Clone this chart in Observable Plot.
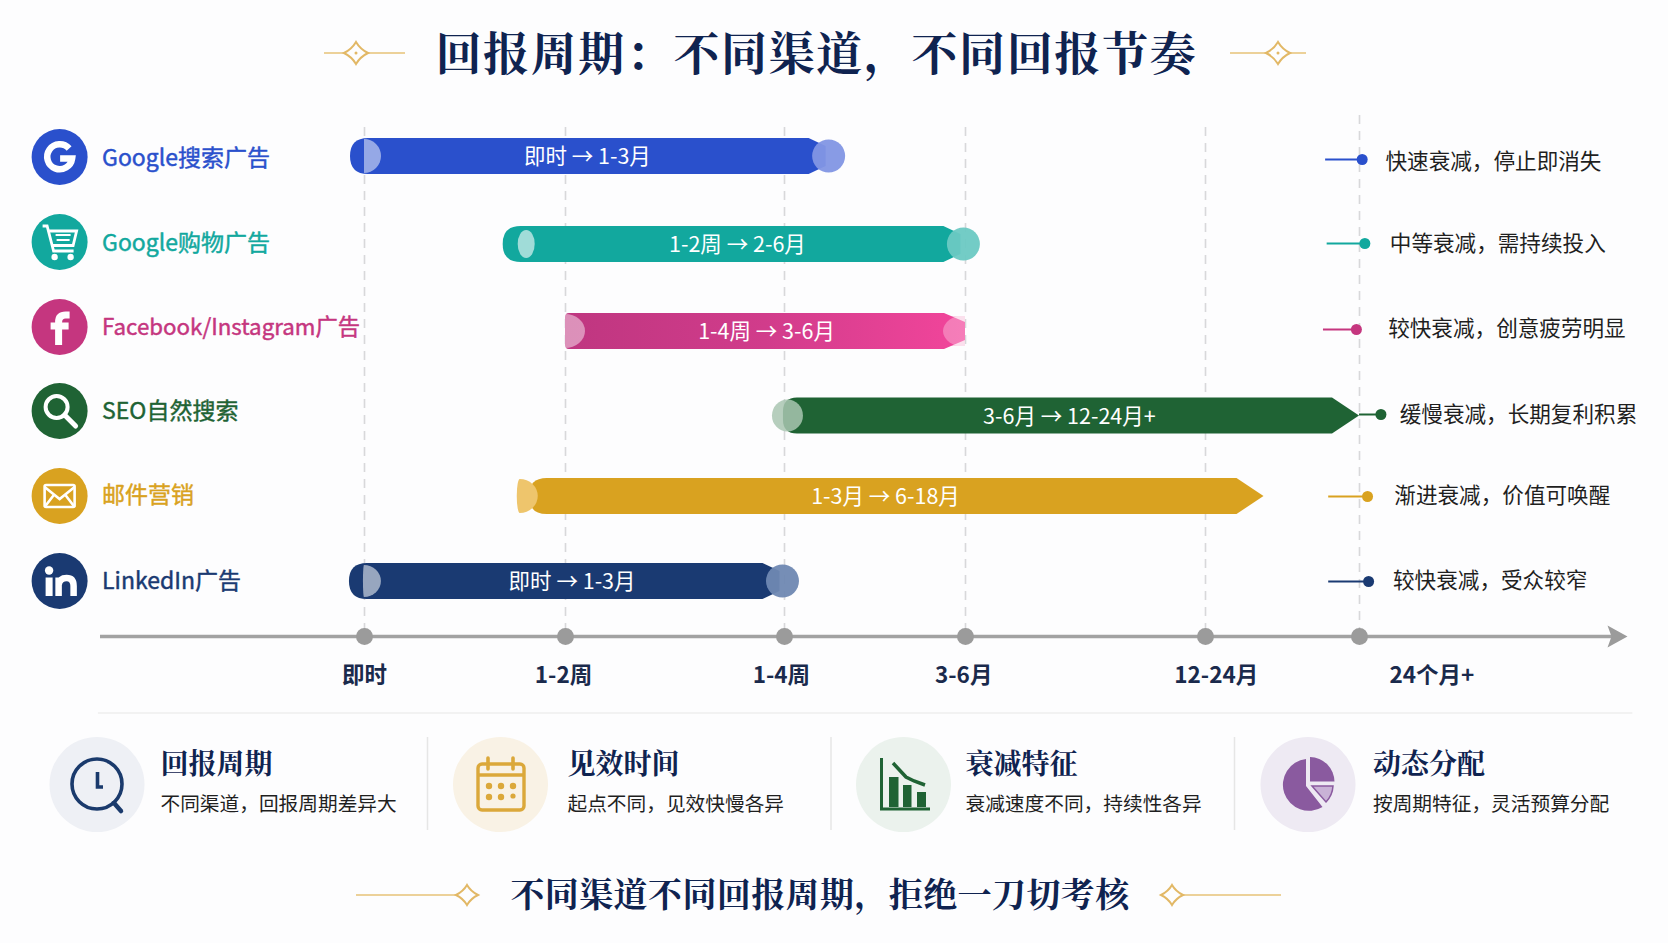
<!DOCTYPE html>
<html lang="zh">
<head>
<meta charset="utf-8">
<title>回报周期</title>
<script src="https://cdn.jsdelivr.net/npm/d3@7"></script>
<script src="https://cdn.jsdelivr.net/npm/@observablehq/plot@0.6"></script>
<style>
html,body{margin:0;padding:0;background:#fdfdfe;}
#page{position:relative;width:1668px;height:943px;overflow:hidden;background:#fdfdfe;font-family:"Noto Sans CJK SC",sans-serif;}
#chart{position:absolute;left:0;top:100px;}
#deco{position:absolute;left:0;top:0;pointer-events:none;}
.t{position:absolute;white-space:nowrap;line-height:1;}
</style>
</head>
<body>
<div id="page"><div id="chart"></div></div>
<script>
// ---------- data ----------
const channels = ["Google搜索广告","Google购物广告","Facebook/Instagram广告","SEO自然搜索","邮件营销","LinkedIn广告"];
const rangeLabels = ["即时 → 1-3月","1-2周 → 2-6月","1-4周 → 3-6月","3-6月 → 12-24月+","1-3月 → 6-18月","即时 → 1-3月"];
const startPeriod = [-0.053,0.69,1.0,1.945,0.76,-0.057];
const endPeriod = [2.335,3.06,3.0,5.0,4.38,2.08];
const decayLabels = ["快速衰减，停止即消失","中等衰减，需持续投入","较快衰减，创意疲劳明显","缓慢衰减，长期复利积累","渐进衰减，价值可唤醒","较快衰减，受众较窄"];
const periods = ["即时","1-2周","1-4周","3-6月","12-24月","24个月+"];
const cardTitles = ["回报周期","见效时间","衰减特征","动态分配"];
const cardTexts = ["不同渠道，回报周期差异大","起点不同，见效快慢各异","衰减速度不同，持续性各异","按周期特征，灵活预算分配"];
const mainTitle = "回报周期：不同渠道，不同回报节奏";
const takeaway = "不同渠道不同回报周期，拒绝一刀切考核";

// ---------- styles / layout ----------
const colors = ["#2a50cc","#12a89e","#c5367f","#1f6334","#d9a220","#1a3a72"];
const lightColors = ["#8296e4","#6cc9c3","#e7a5c7","#9dbba6","#eec56c","#6f88b2"];
const endStyle = ["bulb","bulb","taper","arrow","arrow","bulb"];
// left cap: body inset, body corner radius, highlight offset, right/left bulge, half height, fill, opacity
const caps = [
  {inset:0,rl:18,x0:14,rb:17,lb:0,ry:17,fill:"#fff",op:.5},
  {inset:0,rl:18,x0:23.5,rb:8.5,lb:8.5,ry:14,fill:"#fff",op:.6},
  {inset:0,rl:4,x0:0,rb:20,lb:0,ry:17,fill:"#fff",op:.45},
  {inset:11,rl:14,x0:15.5,rb:15.5,lb:15.5,ry:16,fill:"#a9c5b2",op:.85},
  {inset:12,rl:18,x0:3,rb:18,lb:3,ry:17,fill:"#eec56c",op:1},
  {inset:0,rl:18,x0:15,rb:17,lb:1,ry:16,fill:"#fff",op:.55}
];
const rangeLabelAt = [1.10,1.785,1.918,3.433,2.558,1.03];
const iconAt = -1.153, channelLabelAt = -0.994;
const channelDy = [1,-2,-4,-4.5,0,0];
const channelTextDy = [2,-1,-4,-4.5,-1,0];
const channelSize = [23,23,22.3,23,23,23];
const leaderFrom = [4.78,4.79,4.766,5.0,4.80,4.80];
const leaderTo = [5.01,5.02,4.98,5.08,5.03,5.034];
const leaderDy = [3,-1,-2,-1.5,0,0];
const decayAt = [5.097,5.113,5.107,5.15,5.13,5.125];
const decayDy = [6,0,-2,-1,0,0];
const tickLabelAt = [0,0.99,1.986,2.99,4.07,5.27];
const gridTop = [-0.33,-0.33,-0.33,-0.33,-0.33,-0.466];
const BAR = 36, AXIS_ROW = 6, LABEL_ROW = 6.5, RULE_ROW = 7;
const inkAxis = "#a2a2a2", inkTick = "#9b9b9b", inkText = "#1a2a4c", inkNavy = "#0f2350", inkBody = "#1f1f1f";
const FONT = '"Noto Sans CJK SC",sans-serif';

// the period axis is not evenly spaced: these piecewise maps feed the Plot scales
const periodPos = d3.scaleLinear([-1,0,1,2,3,4,5,6],[100,364,565,784,965,1205,1359,1627]);
const rowPos = d3.scaleLinear([-1,0,1,2,3,4,5,6,6.5,7],[-32,56,144,231,315.5,396,481,536,575,612.5]);

const rows = channels.map((channel,i)=>({channel,row:i,start:startPeriod[i],end:endPeriod[i],color:colors[i],light:lightColors[i],range:rangeLabels[i],style:endStyle[i],cap:caps[i],decay:decayLabels[i]}));

// bar shape built from the scaled x1/x2/y channels
function renderBars(index, scales, values){
  const g = d3.create("svg:g");
  const defs = g.append("defs");
  const grad = defs.append("linearGradient").attr("id","pinkFade");
  grad.append("stop").attr("offset","0").attr("stop-color","#bf3680");
  grad.append("stop").attr("offset","0.5").attr("stop-color","#d13c8b");
  grad.append("stop").attr("offset","1").attr("stop-color","#f2459b");
  const h = BAR/2;
  for (const i of index){
    const d = rows[i], a = values.x1[i], b = values.x2[i], y = values.y[i], c = d.cap;
    const r = g.append("g").attr("transform",`translate(0,${y})`);
    const L = a + c.inset, rl = c.rl;
    let right;
    if (d.style==="arrow") right = `H${b-27} L${b} 0 L${b-27} ${h}`;
    else if (d.style==="taper") right = `H${b-21} L${b} -9 V9 L${b-21} ${h}`;
    else right = `H${b-36} L${b-19} -10 V10 L${b-36} ${h}`;
    if (d.style==="taper"){
      r.append("rect").attr("x",b-18).attr("y",-15).attr("width",18).attr("height",30).attr("fill","#f9c8de").attr("opacity",.8);
    }
    r.append("path")
      .attr("d",`M${L+rl} ${-h} ${right} H${L+rl} Q${L} ${h} ${L} ${h-rl} V${-h+rl} Q${L} ${-h} ${L+rl} ${-h}Z`)
      .attr("fill", d.style==="taper" ? "url(#pinkFade)" : d.color);
    const x0 = a + c.x0;
    r.append("path")
      .attr("d",`M${x0} ${-c.ry} A${c.rb} ${c.ry} 0 0 1 ${x0} ${c.ry}` + (c.lb? ` A${c.lb} ${c.ry} 0 0 1 ${x0} ${-c.ry}`:"") + "Z")
      .attr("fill",c.fill).attr("opacity", c.op);
    if (d.style==="bulb"){
      r.append("circle").attr("cx",b-16).attr("r",16.5).attr("fill",d.light).attr("opacity",.95);
    }
    if (d.style==="taper"){
      r.append("path").attr("d",`M${b} -16 A22 16 0 0 0 ${b} 16Z`).attr("fill","#fff").attr("opacity",.3);
    }
  }
  return g.node();
}

// channel badge glyphs, drawn around each dot of the icon mark
const glyphs = [
  `<path d="M9.5 -8.5 A12.5 12.5 0 1 0 12.5 1.5 H0.5" fill="none" stroke="#fff" stroke-width="6.5"/>`,
  `<g fill="none" stroke="#fff" stroke-width="2.8"><path d="M-17 -16 H-12.5 L-6 9 H14"/><path d="M-10.5 -11 H17 L13.5 3.5 H-7"/><path d="M-4 -7 H11 M-3 -2 H10" stroke-width="2"/></g><circle cx="-5" cy="15" r="3.2" fill="#fff"/><circle cx="11" cy="15" r="3.2" fill="#fff"/>`,
  `<path d="M10 -12 H6 Q-1 -12 -1 -5 V18 M-9 -1 H9" fill="none" stroke="#fff" stroke-width="7"/>`,
  `<circle cx="-3" cy="-4" r="11" fill="none" stroke="#fff" stroke-width="4"/><path d="M5 4 L16 15" stroke="#fff" stroke-width="5" stroke-linecap="round"/>`,
  `<g fill="none" stroke="#fff" stroke-width="2.6"><rect x="-15" y="-11" width="30" height="22" rx="1.5"/><path d="M-15 -9 L0 3 L15 -9 M-15 11 L-5 -2 M15 11 L5 -2"/></g>`,
  `<g fill="#fff"><circle cx="-10.5" cy="-10.5" r="4.2"/><rect x="-14" y="-3.5" width="7" height="18.5"/></g><path d="M-1 15 V-3.5 M-1 4 Q0 -3 7 -3 Q14 -3 14 5 V15" fill="none" stroke="#fff" stroke-width="6.5"/>`
];
function renderIcons(index, scales, values){
  const g = d3.create("svg:g");
  for (const i of index){
    g.append("g").attr("transform",`translate(${values.x[i]},${values.y[i]+channelDy[i]})`)
      .html(`<circle r="28" fill="${colors[i]}"/>${glyphs[i]}`);
  }
  return g.node();
}
const axisArrow = {draw(ctx){ctx.moveTo(0,0);ctx.lineTo(-20,-11);ctx.lineTo(-16,0);ctx.lineTo(-20,11);ctx.closePath();}};

const chart = Plot.plot({
  width:1668, height:620, margin:0,
  style:{background:"transparent",fontFamily:FONT,overflow:"visible"},
  x:{domain:[0,1668],range:[0,1668],transform:periodPos,axis:null},
  y:{domain:[0,620],range:[0,620],transform:rowPos,axis:null},
  color:{type:"identity"},
  marks:[
    // period guides
    Plot.ruleX(periods.map((p,i)=>i),{x:d=>d,y1:(d,i)=>gridTop[i],y2:AXIS_ROW,stroke:"#d8d8da",strokeWidth:1.6,strokeDasharray:"9 7"}),
    // channel badges and names
    Plot.dot(rows,{x:()=>iconAt,y:"row",r:28,fill:"color",render:renderIcons}),
    ...rows.map((d,i)=>Plot.text([d],{x:()=>channelLabelAt,y:"row",text:"channel",fill:"color",stroke:"color",strokeWidth:0.45,textAnchor:"start",fontSize:channelSize[i],dy:channelTextDy[i]})),
    // return-period bars
    Plot.ruleY(rows,{x1:"start",x2:"end",y:"row",stroke:"color",strokeWidth:BAR,render:renderBars}),
    ...rows.map((d,i)=>Plot.text([d],{x:()=>rangeLabelAt[i],y:"row",text:"range",fill:"#fff",fontSize:21.5,dy:1})),
    // decay notes
    ...rows.map((d,i)=>Plot.ruleY([d],{x1:()=>leaderFrom[i],x2:()=>leaderTo[i],y:"row",stroke:"color",strokeWidth:2,dy:leaderDy[i]})),
    ...rows.map((d,i)=>Plot.dot([d],{x:()=>leaderTo[i],y:"row",r:5.5,fill:"color",dy:leaderDy[i]})),
    ...rows.map((d,i)=>Plot.text([d],{x:()=>decayAt[i],y:"row",text:"decay",fill:inkBody,textAnchor:"start",fontSize:21.6,dy:decayDy[i]})),
    // time axis
    Plot.ruleY([AXIS_ROW],{x1:()=>-1,x2:()=>5.95,y:d=>d,stroke:inkAxis,strokeWidth:3.5}),
    Plot.dot([AXIS_ROW],{x:()=>6,y:d=>d,symbol:axisArrow,fill:inkTick}),
    Plot.dot(periods,{x:(d,i)=>i,y:()=>AXIS_ROW,r:8.5,fill:inkTick}),
    Plot.text(periods,{x:(d,i)=>tickLabelAt[i],y:()=>LABEL_ROW,text:d=>d,fill:inkText,fontSize:22.5,fontWeight:700}),
    Plot.ruleY([RULE_ROW],{x1:()=>-1.008,x2:()=>6.02,y:d=>d,stroke:"#eeeeee",strokeWidth:1.5})
  ]
});
document.getElementById("chart").appendChild(chart);

// ---------- surrounding text and decoration ----------
const page = document.getElementById("page");
function addText(str,css){const el=document.createElement("div");el.className="t";el.textContent=str;el.style.cssText=css;page.appendChild(el);return el;}
const head = '"Noto Serif CJK SC","Noto Sans CJK SC",serif';
addText(mainTitle,`left:435.5px;top:16.5px;width:760px;text-align:center;font:700 46px ${head};color:${inkNavy};letter-spacing:1.6px;`);
addText(takeaway,`left:510px;top:867.5px;width:620px;text-align:center;font:700 34px ${head};color:${inkNavy};letter-spacing:0.4px;`);
const cardX = [160.5,567.5,965.5,1373];
cardTitles.forEach((t,i)=>{
  addText(t,`left:${cardX[i]}px;top:741.5px;font:700 28px ${head};color:${inkNavy};`);
  addText(cardTexts[i],`left:${cardX[i]}px;top:787.5px;font:400 19.7px "Noto Sans CJK SC",sans-serif;color:${inkBody};`);
});
const gold="#e2b866";
const diamond=(cx,cy,hw,hh)=>`<path d="M${cx-hw} ${cy} Q${cx-hw*.35} ${cy-hh*.35} ${cx} ${cy-hh} Q${cx+hw*.35} ${cy-hh*.35} ${cx+hw} ${cy} Q${cx+hw*.35} ${cy+hh*.35} ${cx} ${cy+hh} Q${cx-hw*.35} ${cy+hh*.35} ${cx-hw} ${cy}Z" fill="#fdfdfe" stroke="${gold}" stroke-width="2"/>`;
const gline=(a,b,y)=>`<path d="M${a} ${y} H${b}" stroke="#ecd199" stroke-width="2"/>`;
const cardCircle=(cx,f)=>`<circle cx="${cx}" cy="784.5" r="47.5" fill="${f}"/>`;
const deco = `<svg id="deco" width="1668" height="943" viewBox="0 0 1668 943">
${gline(324,405,53)}${diamond(356,53,12,11)}<circle cx="356" cy="53" r="1.5" fill="${gold}"/>
${gline(1230,1306,53)}${diamond(1278,53,12,11)}<circle cx="1278" cy="53" r="1.5" fill="${gold}"/>
${gline(356,460,895)}${diamond(467,895,11,10)}
${gline(1180,1281,895)}${diamond(1172,895,11,10)}
<path d="M427.5 737 V830 M831 737 V830 M1234.5 737 V830" stroke="#e6e6e6" stroke-width="1.5"/>
${cardCircle(97,"#eef0f5")}${cardCircle(500.5,"#f9f2e5")}${cardCircle(903.5,"#ebf2ed")}${cardCircle(1308,"#eeeaf3")}
<g fill="none" stroke="#1a3a6c" stroke-width="3.6"><circle cx="97" cy="784" r="25"/><path d="M97.5 772 V787 H103"/><path d="M114 803 L121 811" stroke-width="4.5" stroke-linecap="round"/></g>
<g fill="none" stroke="#dba83a" stroke-width="3.4"><rect x="478" y="764" width="46" height="46" rx="4"/><path d="M478 775 H524"/><path d="M488 758 V769 M513 758 V769" stroke-linecap="round" stroke-width="3.6"/></g>
<g fill="#dba83a"><circle cx="489" cy="786" r="3.2"/><circle cx="501" cy="786" r="3.2"/><circle cx="513" cy="786" r="3.2"/><circle cx="489" cy="797" r="3.2"/><circle cx="501" cy="797" r="3.2"/><circle cx="513" cy="796" r="2.6"/></g>
<g fill="none" stroke="#1f6334"><path d="M881.5 758 V809 H930" stroke-width="3"/><path d="M893 763 L906 777 L914 781 L925 785" stroke-width="3.5"/></g>
<g fill="#1f6334"><rect x="889" y="777" width="9.5" height="30"/><rect x="903" y="785" width="8.5" height="22"/><rect x="917" y="792" width="9" height="15"/></g>
<g><path d="M1306 786 V759 A26 26 0 1 0 1322.5 807Z" fill="#8a5a9f"/><path d="M1310 781.5 V757 A25 25 0 0 1 1334.5 781.5Z" fill="#8a5a9f"/><path d="M1312 786 H1333 A25 25 0 0 1 1326 802Z" fill="#c9b2d6" stroke="#8a5a9f" stroke-width="1.5"/></g>
</svg>`;
page.insertAdjacentHTML("beforeend",deco);
// bring text above decoration
page.querySelectorAll(".t").forEach(n=>page.appendChild(n));
</script>
</body>
</html>
